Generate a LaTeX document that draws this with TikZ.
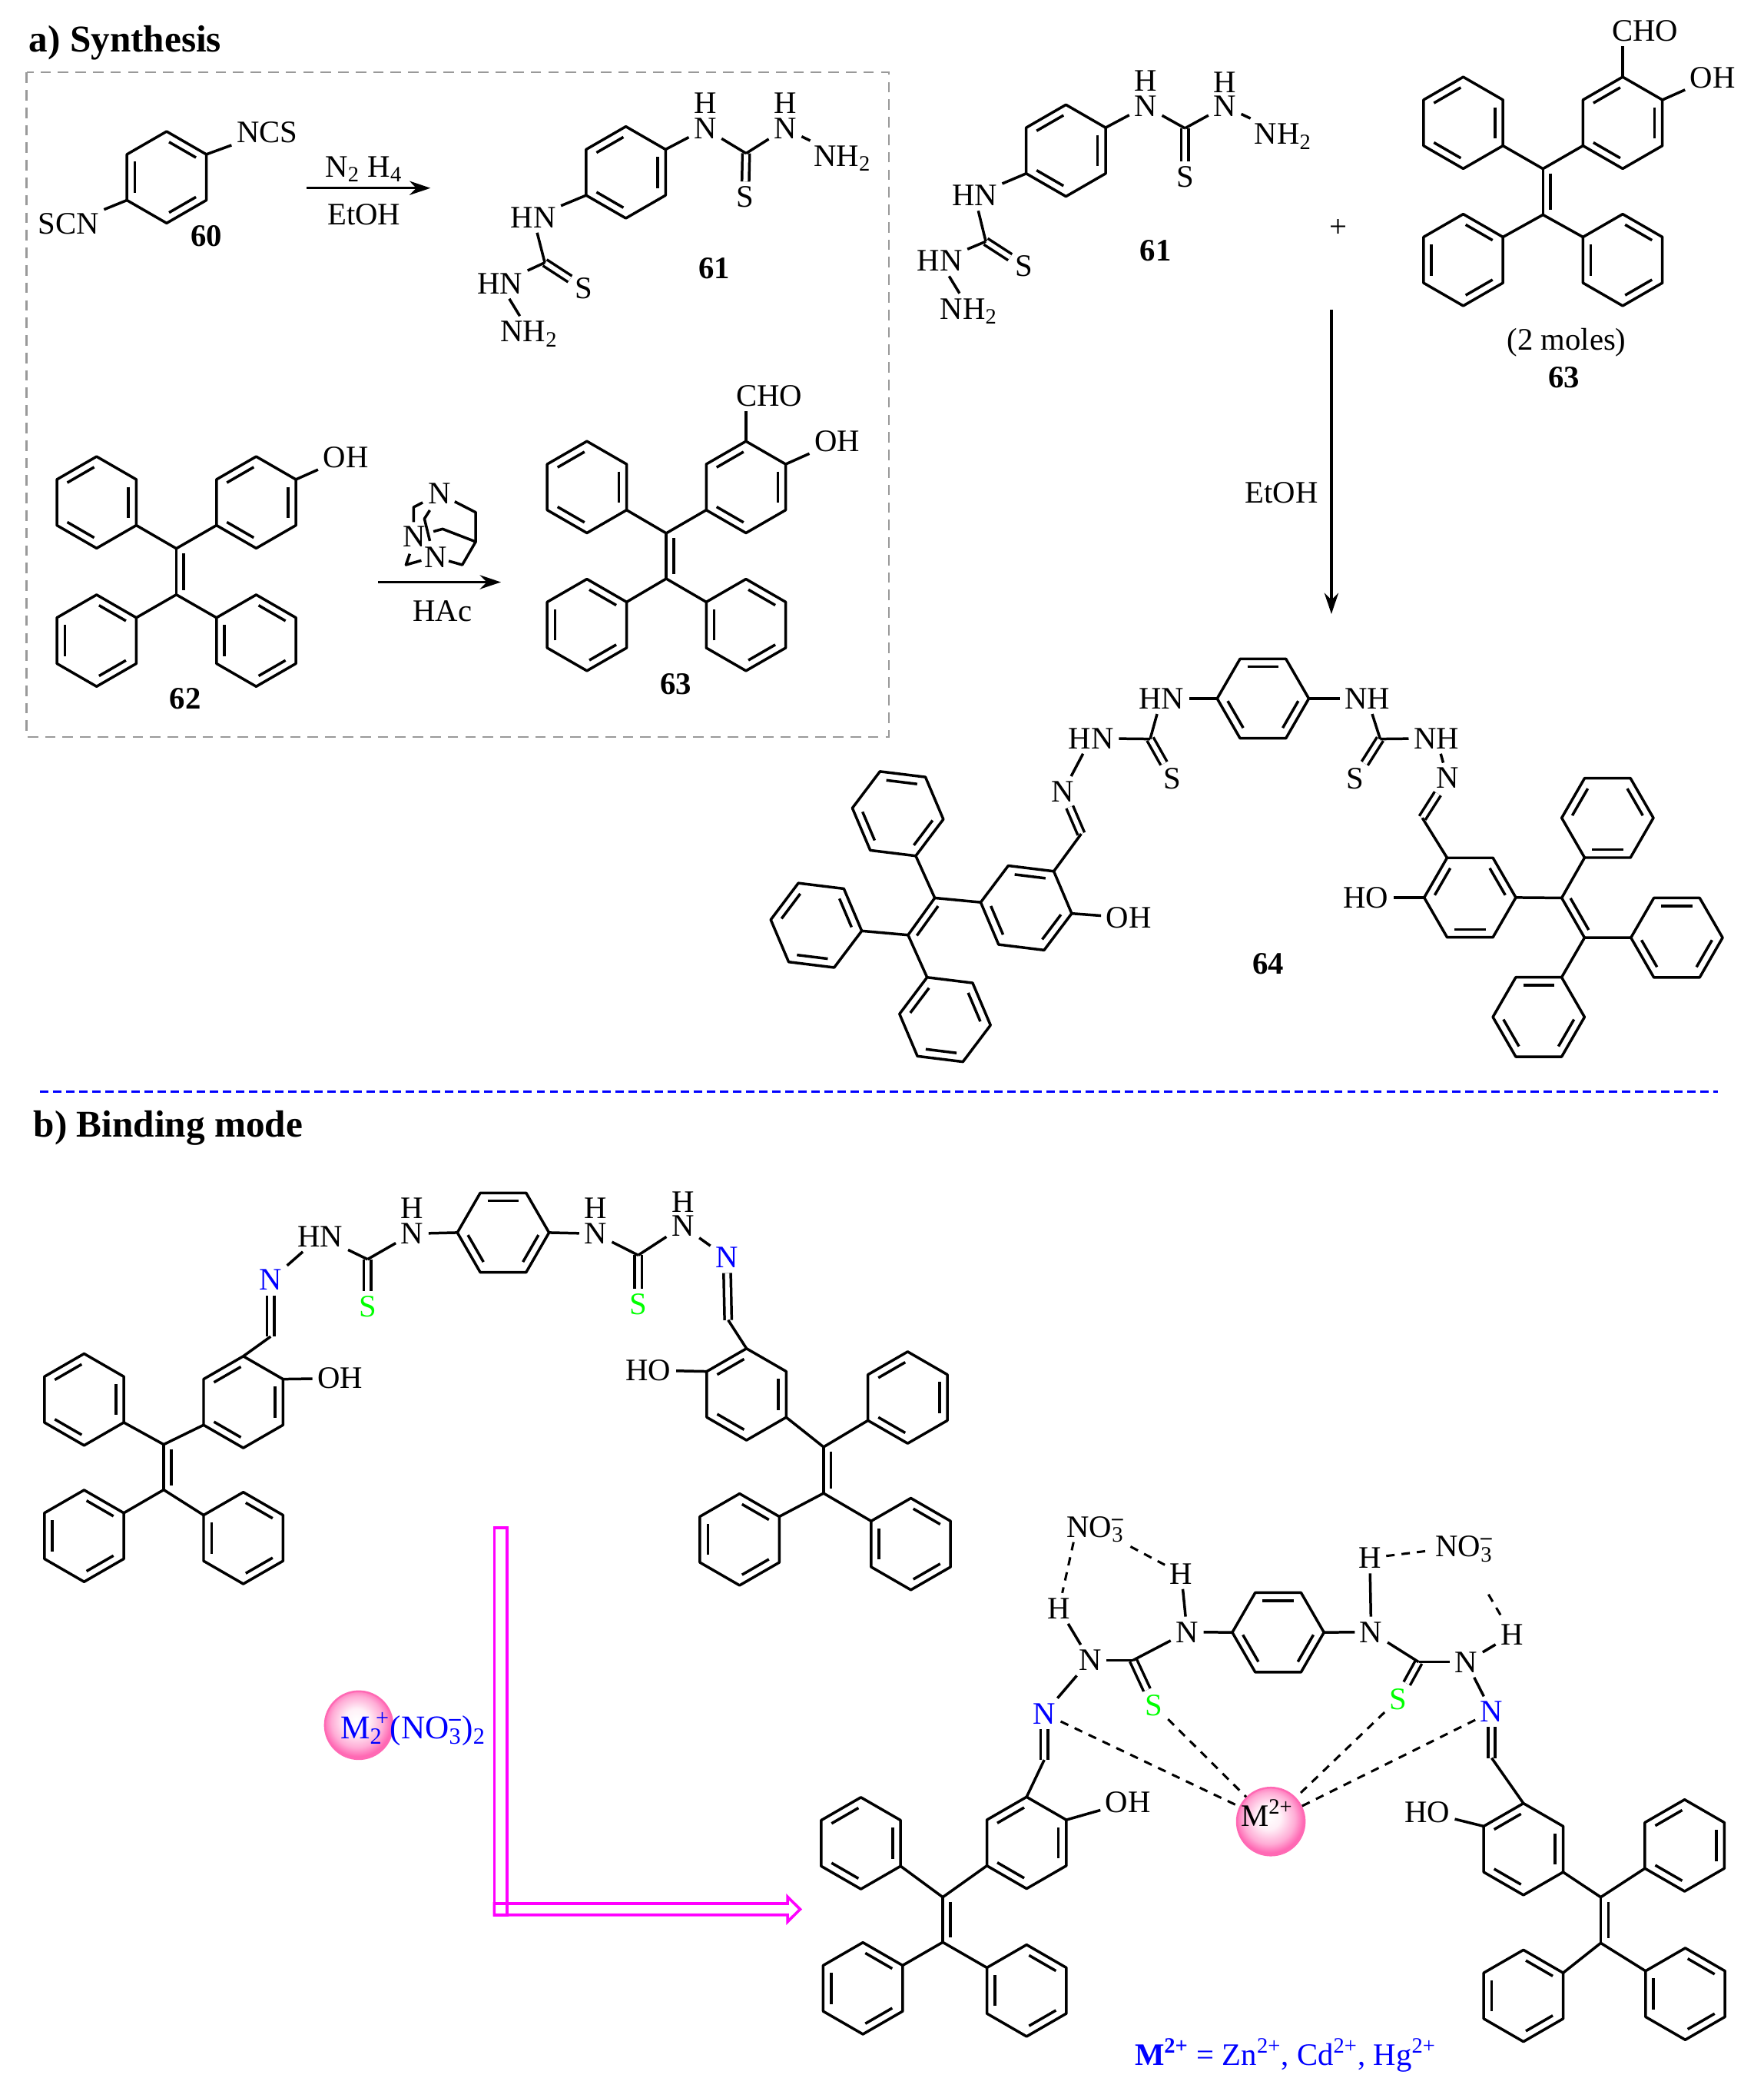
\documentclass[tikz,border=0pt]{standalone}
\usepackage{fontspec}
\setmainfont{Liberation Serif}
\usetikzlibrary{arrows.meta,calc}
\definecolor{newblue}{RGB}{0,0,255}
\definecolor{newgreen}{RGB}{0,255,0}
\definecolor{newmag}{RGB}{255,0,255}
\definecolor{ballpink}{RGB}{255,105,180}
\pgfdeclareradialshading{ballshade}{\pgfpoint{-2bp}{4bp}}{%
  color(0bp)=(white); color(9bp)=(white!90!ballpink);
  color(19bp)=(white!45!ballpink); color(25bp)=(ballpink); color(50bp)=(ballpink)}
\tikzset{>=stealth}
\tikzset{%
    bond/.style={line width=1.15pt,line join=round},
    dbl/.style={line width=1.15pt,double,double distance=1.9pt},
    atom/.style={inner sep=2pt,text height=8.8pt,text depth=0pt},
    tag/.style={atom,font=\fontsize{13.4}{15}\selectfont\bfseries},
    title/.style={inner sep=0pt,anchor=west,font=\fontsize{16.2}{18}\selectfont\bfseries},
    hbond/.style={line width=1pt,dash pattern=on 3.6pt off 3pt},
    rxn/.style={line width=1.1pt,-{Stealth[length=9pt,width=6pt]}},
    wide/.style={line width=1.2pt,newmag,line join=miter},
    metal/.style={circle,minimum size=1.02cm,inner sep=0pt,shading=ballshade,draw=ballpink,line width=.8pt}
}
% hexagon: name, centre, angle of vertex 0, which bonds are doubled
\newcommand{\ring}[4]{%
  \begin{scope}[shift={(#2)}]
    \foreach \k in {0,...,5}{\coordinate (#1\k) at ({#3+60*\k}:34.5);}
    \draw[bond] (#10) -- (#11) -- (#12) -- (#13) -- (#14) -- (#15) -- cycle;
    \foreach \k in {0,2,4}{\draw[bond,shorten <=1.2pt,shorten >=1.2pt]
      ({#3+60*(\k+#4)}:27.6) -- ({#3+60*(\k+#4+1)}:27.6);}
  \end{scope}}
\newcommand{\ethene}[2]{%
  \draw[bond] (#1) -- (#2);
  \draw[bond,shorten <=2pt,shorten >=2pt]
    ($(#1)!3.2pt!90:(#2)$) -- ($(#2)!3.2pt!-90:(#1)$);}
\newcommand{\sbs}[1]{\textsubscript{#1}}
\newcommand{\nitrate}{NO\rlap{\textsubscript{3}}\textsuperscript{\textbf{--}}}

\begin{document}
\begin{tikzpicture}[x=0.02cm,y=-0.02cm,every node/.style={font=\fontsize{13.4}{15}\selectfont}]
  \useasboundingbox (0,0) rectangle (1327,1571);

  % a) Synthesis
  \node[title] (parta) at (21.5,32) {a) Synthesis};
  \draw[gray!80,line width=.8pt,dash pattern=on 4.5pt off 3pt] (20,54.5) rectangle (669,554.5);

  % 60
  \ring{pa}{125.4,133.4}{-90}{0}
  \node[atom] (ncs) at (201,99.5) {NCS};
  \node[atom] (scn) at (51.5,168.5) {SCN};
  \node[tag] (lsixty) at (155.5,177.6) {60};
  \draw[bond] (pa1) -- (ncs);
  \draw[bond] (pa4) -- (scn);
  \coordinate (ra) at (230.7,141.5);
  \coordinate (rb) at (324,141.5);
  \draw[rxn] (ra) -- (rb);
  \node[atom] (hydra) at (273.9,125.4) {N\sbs{2} H\sbs{4}};
  \node[atom] (etoha) at (273.9,161.5) {EtOH};

  % 61 in the box
  \ring{pb}{471,129.7}{-90}{1}
  \node[atom] (bn) at (530.7,96.8) {N};
  \node[atom] (bh) at (530.7,77.7) {H};
  \coordinate (bc) at (561.5,115.4);
  \node[atom] (bm) at (590.9,96.8) {N};
  \node[atom] (bi) at (590.9,77.7) {H};
  \node[atom] (bnh) at (634,117.4) {NH\sbs{2}};
  \node[atom] (bs) at (560.8,148.2) {S};
  \node[atom] (bq) at (401.3,163.5) {HN};
  \coordinate (bd) at (410,197.6);
  \node[atom] (bt) at (439.4,216.7) {S};
  \node[atom] (br) at (376.2,213.2) {HN};
  \node[atom] (bmh) at (398.3,249.4) {NH\sbs{2}};
  \node[tag] (lsixone) at (537.7,201.6) {61};
  \draw[dbl] (bc) -- (bs);
  \draw[dbl] (bd) -- (bt);
  \draw[bond] (pb1) -- (bn);
  \draw[bond] (bn) -- (bc);
  \draw[bond] (bc) -- (bm);
  \draw[bond] (bm) -- (bnh);
  \draw[bond] (pb4) -- (bq);
  \draw[bond] (bq) -- (bd);
  \draw[bond] (bd) -- (br);
  \draw[bond] (br) -- (bmh);

  % 62
  \ring{aul}{72.7,378}{-90}{1}
  \ring{aur}{192.8,378}{-90}{1}
  \ring{all}{72.7,482}{-90}{0}
  \ring{alr}{192.8,482}{-90}{0}
  \coordinate (ac) at (132.7,412.7);
  \coordinate (ad) at (132.7,447.4);
  \ethene{ac}{ad}
  \draw[bond] (aul2) -- (ac) -- (aur4);
  \draw[bond] (all1) -- (ad) -- (alr5);
  \node[atom] (aoh) at (260.2,344.1) {OH};
  \draw[bond] (aur1) -- (aoh);
  \node[tag] (lsixtwo) at (139.4,525.7) {62};

  % cage over the arrow
  \node[atom,inner sep=.5pt] (cn) at (330.6,371) {N};
  \node[atom,inner sep=.5pt] (cl) at (311.9,403.4) {N};
  \node[atom,inner sep=.5pt] (cm) at (327.7,419.2) {N};
  \coordinate (ct) at (358,385.5);
  \coordinate (cb) at (358,407.6);
  \coordinate (cf) at (347.9,425);
  \coordinate (cg) at (337.7,422.1);
  \draw[bond] (342.2,377.4) -- (ct) -- (cb) -- (cf) -- (cg);
  \draw[bond] (318.1,378.1) -- (311.3,381.6) -- (311.3,392.8);
  \draw[bond] (323.5,383.9) -- (319.4,390.3) -- (323.5,407);
  \draw[bond] (326.2,399.9) -- (333.1,398) -- (cb);
  \draw[bond] (308.4,416.7) -- (305.5,425) -- (317.1,421.7);
  \coordinate (rc) at (284.5,438);
  \coordinate (rd) at (377,438);
  \draw[rxn] (rc) -- (rd);
  \node[atom] (hac) at (333,459.5) {HAc};

  % 63 in the box
  \ring{cul}{441.7,366.5}{-90}{1}
  \ring{cur}{561.4,366.5}{-90}{1}
  \ring{cll}{441.7,470.2}{-90}{0}
  \ring{clr}{561.4,470.2}{-90}{0}
  \coordinate (dc) at (501.4,401.2);
  \coordinate (dd) at (501.4,435.4);
  \ethene{dc}{dd}
  \draw[bond] (cul2) -- (dc) -- (cur4);
  \draw[bond] (cll1) -- (dd) -- (clr5);
  \node[atom] (dcho) at (578.8,298) {CHO};
  \node[atom] (doh) at (630,332) {OH};
  \draw[bond] (cur0) -- (cur0 |- dcho.south);
  \draw[bond] (cur1) -- (doh);
  \node[tag] (lsixthree) at (508.6,514.6) {63};

  % 61 at the right
  \ring{pe}{802.2,113.3}{-90}{1}
  \node[atom] (en) at (862.2,80) {N};
  \node[atom] (eh) at (862.2,61) {H};
  \coordinate (ec) at (891.8,96.5);
  \node[atom] (em) at (921.8,80) {N};
  \node[atom] (ei) at (921.8,62) {H};
  \node[atom] (enh) at (965.7,100.7) {NH\sbs{2}};
  \node[atom] (es) at (891.8,133.2) {S};
  \node[atom] (eq) at (733.4,147) {HN};
  \coordinate (ed) at (741.9,181.7);
  \node[atom] (et) at (770.6,200.3) {S};
  \node[atom] (er) at (707.2,196.2) {HN};
  \node[atom] (emh) at (729.2,232.3) {NH\sbs{2}};
  \node[tag] (lsixoneb) at (869.8,188.4) {61};
  \draw[dbl] (ec) -- (es);
  \draw[dbl] (ed) -- (et);
  \draw[bond] (pe1) -- (en);
  \draw[bond] (en) -- (ec);
  \draw[bond] (ec) -- (em);
  \draw[bond] (em) -- (enh);
  \draw[bond] (pe4) -- (eq);
  \draw[bond] (eq) -- (ed);
  \draw[bond] (ed) -- (er);
  \draw[bond] (er) -- (emh);
  \node[atom] (plus) at (1007,170.4) {+};

  % 63 at the right
  \ring{ful}{1101.2,92.4}{-90}{1}
  \ring{fur}{1221.2,92.4}{-90}{1}
  \ring{fll}{1101.2,195.6}{-90}{0}
  \ring{flr}{1221.2,195.6}{-90}{0}
  \coordinate (fc) at (1161.2,127);
  \coordinate (fd) at (1161.2,161.6);
  \ethene{fc}{fd}
  \draw[bond] (ful2) -- (fc) -- (fur4);
  \draw[bond] (fll1) -- (fd) -- (flr5);
  \node[atom] (fcho) at (1238,23.2) {CHO};
  \node[atom] (foh) at (1289,58.3) {OH};
  \draw[bond] (fur0) -- (fur0 |- fcho.south);
  \draw[bond] (fur1) -- (foh);
  \node[atom] (moles) at (1179,255.5) {(2 moles)};
  \node[tag] (lsixthreeb) at (1177,284) {63};

  \coordinate (re) at (1002,233.3);
  \coordinate (rf) at (1002,462);
  \draw[rxn] (re) -- (rf);
  \node[atom] (etohb) at (964.5,370.7) {EtOH};

  % 64
  \ring{gmid}{950.5,525.6}{0}{0}
  \node[atom] (gq) at (874,525.6) {HN};
  \node[atom] (gp) at (1029,525.6) {NH};
  \coordinate (gc) at (865.6,556);
  \coordinate (gd) at (1038.7,556);
  \node[atom] (gs) at (882.5,586) {S};
  \node[atom] (gt) at (1019.7,586) {S};
  \node[atom] (gr) at (821.2,555.5) {HN};
  \node[atom] (gu) at (1081,555.5) {NH};
  \node[atom] (gn) at (800,595.6) {N};
  \node[atom] (gm) at (1089.4,585.5) {N};
  \coordinate (ge) at (813.7,627.4);
  \coordinate (gf) at (1070.4,615.4);
  \draw[dbl] (gc) -- (gs);
  \draw[dbl] (gd) -- (gt);
  \draw[dbl] (gn) -- (ge);
  \draw[dbl] (gm) -- (gf);
  \draw[bond] (gmid3) -- (gq);
  \draw[bond] (gmid0) -- (gp);
  \draw[bond] (gq) -- (gc);
  \draw[bond] (gp) -- (gd);
  \draw[bond] (gc) -- (gr);
  \draw[bond] (gd) -- (gu);
  \draw[bond] (gr) -- (gn);
  \draw[bond] (gu) -- (gm);
  % 64, left arm
  \ring{hup}{675.7,612.2}{7}{0}
  \ring{hle}{614.3,696.2}{7}{1}
  \ring{hdo}{711.2,767.1}{7}{1}
  \ring{har}{772.3,683.1}{7}{0}
  \coordinate (hc) at (703.5,675.6);
  \coordinate (hd) at (683.4,703.5);
  \ethene{hc}{hd}
  \draw[bond] (hup1) -- (hc) -- (har3);
  \draw[bond] (hle0) -- (hd) -- (hdo4);
  \draw[bond] (har5) -- (ge);
  \node[atom] (hoh) at (849.5,690.5) {OH};
  \draw[bond] (har0) -- (hoh);
  % 64, right arm
  \ring{jar}{1106.3,675.3}{0}{1}
  \ring{jup}{1209.8,615.4}{0}{1}
  \ring{jri}{1261.9,705.5}{0}{0}
  \ring{jdo}{1158,765.2}{0}{0}
  \coordinate (jc) at (1175.3,675.6);
  \coordinate (jd) at (1192.5,705.5);
  \ethene{jc}{jd}
  \draw[bond] (jup2) -- (jc) -- (jar0);
  \draw[bond] (jdo5) -- (jd) -- (jri3);
  \draw[bond] (jar4) -- (gf);
  \node[atom] (jho) at (1028,675.3) {HO};
  \draw[bond] (jar3) -- (jho);
  \node[tag] (lsixfour) at (954.3,725.4) {64};

  \draw[newblue,line width=1pt,dash pattern=on 3.6pt off 2pt] (30,821.5) -- (1293,821.5);

  % b) Binding mode
  \node[title] (partb) at (25,849) {b) Binding mode};

  % free ligand
  \ring{kmid}{378.7,927.4}{0}{0}
  \node[atom] (kn) at (310.2,928.2) {N};
  \node[atom] (kh) at (310.2,908.8) {H};
  \coordinate (kc) at (276.6,947.5);
  \node[atom,newgreen] (ks) at (276.6,982.9) {S};
  \node[atom] (kq) at (241.1,930.2) {HN};
  \node[atom,newblue] (kb) at (203.7,963) {N};
  \coordinate (ke) at (203.7,1005.6);
  \node[atom] (ln) at (448.2,928.2) {N};
  \node[atom] (lh) at (448.2,908.8) {H};
  \coordinate (lc) at (480.3,944.4);
  \node[atom,newgreen] (ls) at (480.3,981) {S};
  \node[atom] (lm) at (513.9,922.5) {N};
  \node[atom] (li) at (513.9,904.4) {H};
  \node[atom,newblue] (lb) at (547,946.2) {N};
  \coordinate (le) at (548,993.2);
  \draw[dbl] (kc) -- (ks);
  \draw[dbl] (lc) -- (ls);
  \draw[dbl] (kb) -- (ke);
  \draw[dbl] (lb) -- (le);
  \draw[bond] (kmid3) -- (kn);
  \draw[bond] (kn) -- (kc);
  \draw[bond] (kc) -- (kq);
  \draw[bond] (kq) -- (kb);
  \draw[bond] (kmid0) -- (ln);
  \draw[bond] (ln) -- (lc);
  \draw[bond] (lc) -- (lm);
  \draw[bond] (lm) -- (lb);
  % free ligand, left arm
  \ring{mul}{63.3,1053}{-90}{1}
  \ring{mur}{183.1,1054.9}{-90}{1}
  \ring{mll}{63.3,1155.6}{-90}{0}
  \ring{mlr}{183.1,1157.2}{-90}{0}
  \coordinate (mc) at (123.2,1086.8);
  \coordinate (md) at (123.2,1120.9);
  \ethene{mc}{md}
  \draw[bond] (mul2) -- (mc) -- (mur4);
  \draw[bond] (mll1) -- (md) -- (mlr5);
  \draw[bond] (mur0) -- (ke);
  \node[atom] (moh) at (256,1037) {OH};
  \draw[bond] (mur1) -- (moh);
  % free ligand, right arm
  \ring{nar}{561.8,1049.1}{-90}{1}
  \ring{nur}{683.1,1051.5}{-90}{1}
  \ring{nll}{556.6,1158.3}{-90}{0}
  \ring{nlr}{685.5,1161.7}{-90}{0}
  \coordinate (nc) at (619.8,1088.7);
  \coordinate (nd) at (619.8,1123.5);
  \ethene{nc}{nd}
  \draw[bond] (nar2) -- (nc) -- (nur4);
  \draw[bond] (nll1) -- (nd) -- (nlr5);
  \draw[bond] (nar0) -- (le);
  \node[atom] (nho) at (488,1031) {HO};
  \draw[bond] (nar5) -- (nho);

  % metal salt and the arrow
  \node[metal] (salt) at (270,1298) {};
  \node[atom,newblue,scale=1.06] (saltname) at (311,1300) {M\rlap{\textsubscript{2}}\textsuperscript{ +}(\nitrate)\textsubscript{2}};
  \coordinate (wa) at (372,1149.5);
  \coordinate (wb) at (381.5,1440.7);
  \draw[wide] (wa) rectangle (wb);
  \coordinate (wc) at (372,1432.2);
  \coordinate (wd) at (592.7,1432.2);
  \coordinate (we) at (592.7,1427.2);
  \coordinate (wf) at (602.2,1436.5);
  \coordinate (wg) at (592.7,1445.9);
  \coordinate (wh) at (592.7,1440.7);
  \coordinate (wi) at (372,1440.7);
  \draw[wide] (wc) -- (wd) -- (we) -- (wf) -- (wg) -- (wh) -- (wi) -- cycle;

  % complex
  \ring{qmid}{961.9,1228.2}{0}{0}
  \node[atom] (qn) at (893.4,1227.9) {N};
  \node[atom] (qh) at (889,1184) {H};
  \coordinate (qc) at (852.8,1249.1);
  \node[atom] (qm) at (820.3,1249.1) {N};
  \node[atom] (qi) at (796.9,1210.1) {H};
  \node[atom,newgreen] (qs) at (868.6,1283.1) {S};
  \node[atom,newblue] (qb) at (785.9,1289.3) {N};
  \coordinate (qe) at (785.9,1324.1);
  \node[atom] (sn) at (1031.9,1227.9) {N};
  \node[atom] (sh) at (1030.9,1172.2) {H};
  \coordinate (sc) at (1067.7,1250.5);
  \node[atom,newgreen] (ss) at (1052.4,1278.3) {S};
  \node[atom] (sm) at (1103.5,1250.5) {N};
  \node[atom] (si) at (1137.9,1229.9) {H};
  \node[atom,newblue] (sb) at (1122.6,1287.9) {N};
  \coordinate (se) at (1122.6,1322.7);
  \draw[dbl] (qc) -- (qs);
  \draw[dbl] (sc) -- (ss);
  \draw[dbl] (qb) -- (qe);
  \draw[dbl] (sb) -- (se);
  \draw[bond] (qmid3) -- (qn);
  \draw[bond] (qn) -- (qh);
  \draw[bond] (qn) -- (qc);
  \draw[bond] (qc) -- (qm);
  \draw[bond] (qm) -- (qi);
  \draw[bond] (qm) -- (qb);
  \draw[bond] (qmid0) -- (sn);
  \draw[bond] (sn) -- (sh);
  \draw[bond] (sn) -- (sc);
  \draw[bond] (sc) -- (sm);
  \draw[bond] (sm) -- (si);
  \draw[bond] (sm) -- (sb);
  \node[atom] (noa) at (824.5,1148.7) {\nitrate};
  \node[atom] (nob) at (1102,1163.5) {\nitrate};
  \coordinate (hfree) at (1120.2,1199.6);
  \draw[hbond] (noa.215) -- (qi);
  \draw[hbond,shorten <=4pt] (noa.-30) -- (qh);
  \draw[hbond] (sh) -- (nob);
  \draw[hbond] (hfree) -- (si);
  \node[metal] (mball) at (956.4,1370.5) {};
  \node[atom] (mname) at (953.5,1366.5) {M\textsuperscript{2+}};
  \draw[hbond] (qb) -- (mball);
  \draw[hbond] (qs) -- (mball);
  \draw[hbond] (ss) -- (mball);
  \draw[hbond] (sb) -- (mball);
  % complex, left arm
  \ring{tar}{772.6,1386.5}{-90}{1}
  \ring{tul}{647.9,1386.8}{-90}{1}
  \ring{tll}{649.4,1496}{-90}{0}
  \ring{tlr}{772.6,1497.7}{-90}{0}
  \coordinate (tc) at (709.5,1427.4);
  \coordinate (td) at (709.5,1461.3);
  \ethene{tc}{td}
  \draw[bond] (tul2) -- (tc) -- (tar4);
  \draw[bond] (tll1) -- (td) -- (tlr5);
  \draw[bond] (tar0) -- (qe);
  \node[atom] (toh) at (849,1356) {OH};
  \draw[bond] (tar1) -- (toh);
  % complex, right arm
  \ring{uar}{1146.5,1391.3}{-90}{1}
  \ring{uur}{1267.8,1388.5}{-90}{1}
  \ring{ull}{1146.5,1501.6}{-90}{0}
  \ring{ulr}{1268.3,1500.2}{-90}{0}
  \coordinate (uc) at (1204.7,1427.4);
  \coordinate (ud) at (1204.7,1461.9);
  \ethene{uc}{ud}
  \draw[bond] (uar2) -- (uc) -- (uur4);
  \draw[bond] (ull1) -- (ud) -- (ulr5);
  \draw[bond] (uar0) -- (se);
  \node[atom] (uho) at (1074,1363.5) {HO};
  \draw[bond] (uar5) -- (uho);
  \node[atom,newblue] (salts) at (967.5,1546) {\textbf{M\textsuperscript{2+}} = Zn\textsuperscript{2+}, Cd\textsuperscript{2+}, Hg\textsuperscript{2+}};
\end{tikzpicture}
\end{document}
